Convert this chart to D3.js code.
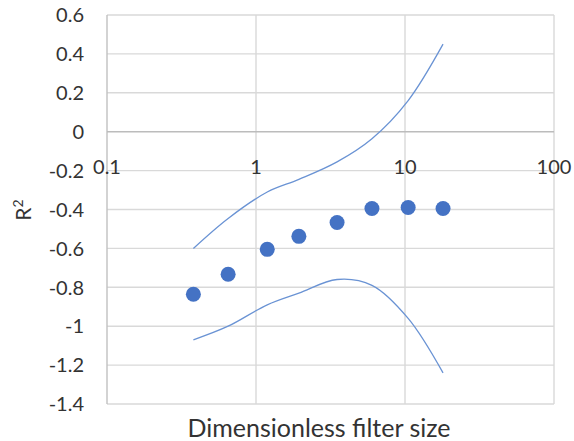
<!DOCTYPE html>
<html>
<head>
<meta charset="utf-8">
<script src="https://cdn.jsdelivr.net/npm/d3@7"></script>
<style>
  html, body { margin: 0; padding: 0; background: #fff; }
  svg { display: block; }
  text { font-family: Lato, "Open Sans", sans-serif; fill: #333; }
</style>
</head>
<body>
<svg id="chart" width="574" height="441"></svg>
<script>
// Dimensionless filter size (log axis) and the fitted R² with its upper / lower bounds
const filterSize = [0.38, 0.65, 1.19, 1.94, 3.5, 6.0, 10.5, 18];
const r2 = [-0.836, -0.733, -0.605, -0.538, -0.467, -0.395, -0.39, -0.395];
const upperBound = [-0.60, -0.446, -0.31, -0.245, -0.155, -0.036, 0.16, 0.45];
const lowerBound = [-1.07, -1.0, -0.89, -0.83, -0.76, -0.79, -0.96, -1.24];

const xTicks = [0.1, 1, 10, 100];
const yTicks = [0.6, 0.4, 0.2, 0, -0.2, -0.4, -0.6, -0.8, -1, -1.2, -1.4];

const svg = d3.select("#chart");
const x = d3.scaleLog().domain([0.1, 100]).range([107, 554]);
const y = d3.scaleLinear().domain([-1.4, 0.6]).range([404, 15]);

const blue = "#4472C4";

// horizontal gridlines
svg.append("g").selectAll("line").data(yTicks.filter(d => d !== 0)).join("line")
  .attr("x1", x(0.1)).attr("x2", x(100))
  .attr("y1", d => y(d)).attr("y2", d => y(d))
  .attr("stroke", "#d9d9d9").attr("stroke-width", 1.4);

// vertical gridlines
svg.append("g").selectAll("line").data(xTicks.slice(1)).join("line")
  .attr("x1", d => x(d)).attr("x2", d => x(d))
  .attr("y1", y(0.6)).attr("y2", y(-1.4))
  .attr("stroke", "#d9d9d9").attr("stroke-width", 1.4);

// axis lines: vertical at 0.1, horizontal crossing at 0
svg.append("line")
  .attr("x1", x(0.1)).attr("x2", x(0.1)).attr("y1", y(0.6)).attr("y2", y(-1.4))
  .attr("stroke", "#c0c0c0").attr("stroke-width", 1.4);
svg.append("line")
  .attr("x1", x(0.1)).attr("x2", x(100)).attr("y1", y(0)).attr("y2", y(0))
  .attr("stroke", "#bcbcbc").attr("stroke-width", 1.4);

// y tick labels
svg.append("g").selectAll("text").data(yTicks).join("text")
  .attr("x", 84).attr("y", d => y(d))
  .attr("dy", "0.36em")
  .attr("text-anchor", "end")
  .attr("font-size", 20)
  .text(d => String(d));

// x tick labels, placed below the zero line
svg.append("g").selectAll("text").data(xTicks).join("text")
  .attr("x", d => x(d)).attr("y", 174)
  .attr("text-anchor", "middle")
  .attr("font-size", 20)
  .text(d => String(d));

// bound curves
const line = d3.line()
  .x((d, i) => x(filterSize[i]))
  .y(d => y(d))
  .curve(d3.curveCatmullRom.alpha(0.5));

[upperBound, lowerBound].forEach(series => {
  svg.append("path")
    .datum(series)
    .attr("d", line)
    .attr("fill", "none")
    .attr("stroke", "#6a93d4")
    .attr("stroke-width", 1.3);
});

// R² points
svg.append("g").selectAll("circle").data(r2).join("circle")
  .attr("cx", (d, i) => x(filterSize[i]))
  .attr("cy", d => y(d))
  .attr("r", 7.5)
  .attr("fill", blue);

// axis titles
svg.append("text")
  .attr("x", 319).attr("y", 437)
  .attr("text-anchor", "middle")
  .attr("font-size", 25)
  .text("Dimensionless filter size");

const yTitle = svg.append("text")
  .attr("transform", "translate(31,210) rotate(-90)")
  .attr("text-anchor", "middle")
  .attr("font-size", 21);
yTitle.append("tspan").text("R");
yTitle.append("tspan").attr("font-size", 14).attr("dy", -8).text("2");
</script>
</body>
</html>
